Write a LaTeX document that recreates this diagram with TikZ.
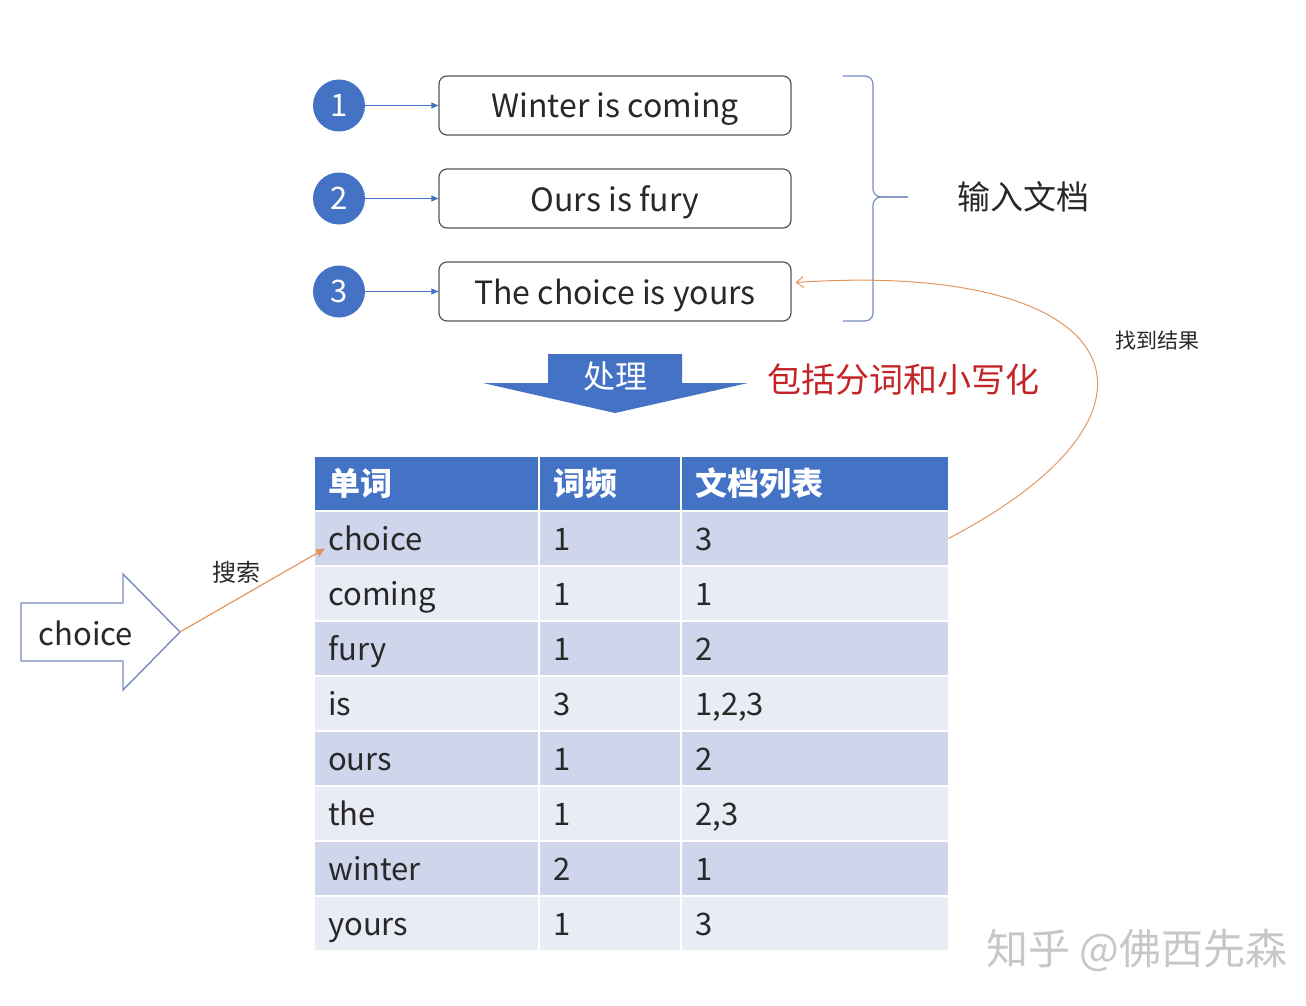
\documentclass[tikz,border=0pt]{standalone}
\usepackage{fontspec}
\setmainfont{Noto Sans CJK SC}
\usepackage{tikz}
\usetikzlibrary{arrows.meta, positioning, calc}
\usepackage{xcolor}
\definecolor{officeblue}{RGB}{68,114,196}
\definecolor{band1}{RGB}{207,213,234}
\definecolor{band0}{RGB}{233,235,245}
\definecolor{boxgray}{RGB}{85,85,85}
\definecolor{textdark}{RGB}{40,40,40}
\definecolor{softorange}{RGB}{228,150,95}
\definecolor{notered}{RGB}{196,36,40}
\definecolor{bracecol}{RGB}{118,140,190}
\newcommand{\fsz}[1]{\fontsize{#1pt}{#1pt}\selectfont}

\begin{document}
\begin{tikzpicture}[x=1pt, y=-1pt,
    numc/.style={circle, fill=officeblue, minimum size=52, inner sep=0, text=white, font=\fsz{31}},
    docbox/.style={draw=boxgray, line width=1.2, rounded corners=8, minimum width=352, minimum height=59, text height=25, text depth=0, text=textdark, font=\fsz{32}},
    numarrow/.style={officeblue, line width=0.9, -{Triangle[length=7, width=6]}},
    bracepath/.style={bracecol, line width=1.2, rounded corners=8},
    cell/.style={anchor=west, minimum height=53, inner xsep=13, inner ysep=0, text height=24, text depth=0, align=left, text=textdark, font=\fsz{31}},
    hcell/.style={cell, fill=officeblue, text=white, font=\fsz{32}\bfseries},
    found/.style={softorange, line width=1, -{Straight Barb[length=7, width=11]}},
    search/.style={softorange, line width=1.2, -{Triangle[length=9, width=8]}}]
  \useasboundingbox (0,0) rectangle (1306,1006);
  % Documents
  \foreach \t [count=\i] in {Winter is coming, Ours is fury, The choice is yours} {
    \pgfmathsetmacro\ry{105.5+(\i-1)*93}
    \node[numc] (n\i) at (339,\ry) {\i};
    \node[docbox] (doc\i) at (615,\ry) {\t};
    \draw[numarrow] (n\i) -- (doc\i);
  }
  % Brace
  \draw[bracepath] (843,76) -- (873,76) -- (873,197) -- (908,197);
  \draw[bracepath] (843,321) -- (873,321) -- (873,197) -- (908,197);
  \node[text=textdark, font=\fsz{33}] (inlabel) at (1023,197) {输入文档};
  % Process
  \fill[officeblue] (548,354) -- (682,354) -- (682,383) -- (748,383) -- (615,413) -- (483,383) -- (548,383) -- cycle;
  \node[text=white, font=\fsz{32}] (proc) at (615,376) {处理};
  \node[text=notered, font=\fsz{34}] (note) at (903,380) {包括分词和小写化};
  % Table
  \node[hcell, text width=197] (h1) at (315,483.5) {单词};
  \node[hcell, text width=114] (h2) at (540,483.5) {词频};
  \node[hcell, text width=240] (h3) at (682,483.5) {文档列表};
  \foreach \w/\f/\d [count=\i] in {choice/1/3, coming/1/1, fury/1/2, is/3/{1,2,3}, ours/1/2, the/1/{2,3}, winter/2/1, yours/1/3} {
    \pgfmathtruncatemacro\rc{mod(\i,2)}
    \pgfmathsetmacro\ry{538.5+(\i-1)*55}
    \node[cell, fill=band\rc, text width=197] (w\i) at (315,\ry) {\w};
    \node[cell, fill=band\rc, text width=114] (f\i) at (540,\ry) {\f};
    \node[cell, fill=band\rc, text width=240] (d\i) at (682,\ry) {\d};
  }
  % Query
  \draw[bracecol, line width=1.4] (21,603) -- (123,603) -- (123,574) -- (180,632) -- (123,690) -- (123,661) -- (21,661) -- cycle;
  \coordinate (qtip) at (180,632);
  \node[text=textdark, font=\fsz{31}] (query) at (86,633) {choice};
  \draw[search] (qtip) -- ([xshift=10pt, yshift=-10pt]w1.west);
  \node[text=textdark, font=\fsz{24}] (lsearch) at (236,572) {搜索};
  % Result
  \draw[found] (d1.east) .. controls (1195,410) and (1130,260) .. ([xshift=4pt, yshift=9pt]doc3.east);
  \node[text=textdark, font=\fsz{21}] (lfound) at (1157,341) {找到结果};
  \node[text=black!22, font=\fsz{42}] (wmark) at (1137,950) {知乎 @佛西先森};
\end{tikzpicture}
\end{document}
